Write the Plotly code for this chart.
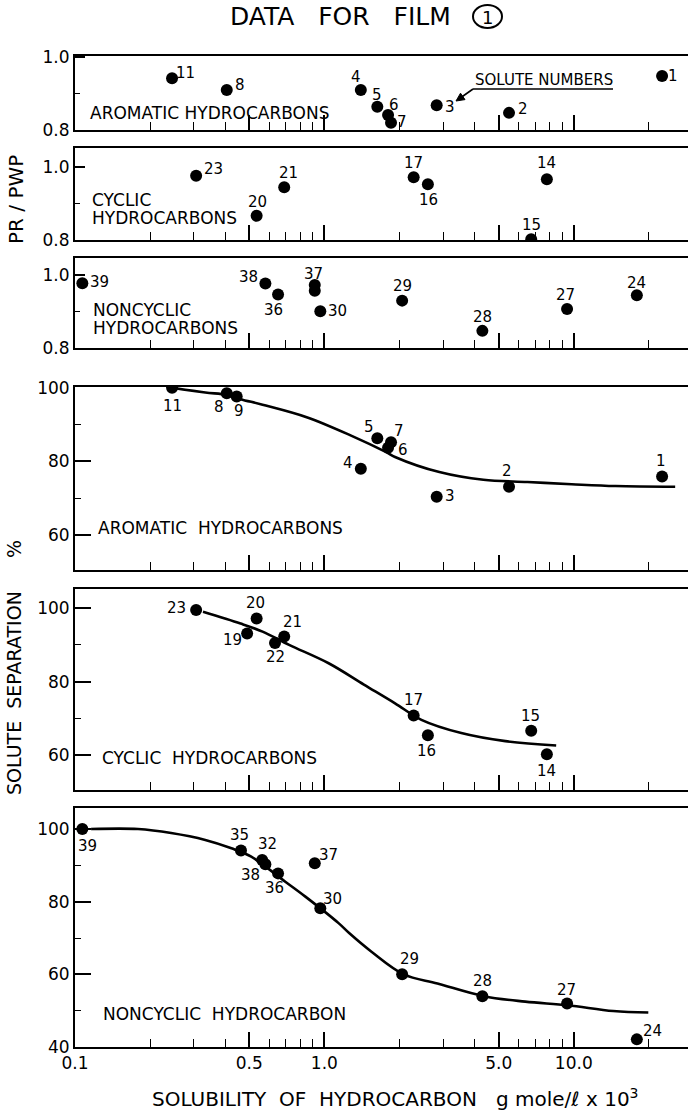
import numpy as np
import plotly.graph_objects as go

W, H = 688, 1113

# ---- solute data: solute number, solubility (g mole/l x 10^3), PR/PWP, solute separation % ----
aro_ids = [11, 8, 9, 4, 5, 6, 7, 3, 2, 1]
aro_sol = [0.245, 0.406, 0.445, 1.40, 1.63, 1.80, 1.85, 2.82, 5.5, 22.6]
aro_pr = [0.942, 0.910, None, 0.910, 0.864, 0.841, 0.820, 0.868, 0.847, 0.948]
aro_ss = [100, 98.5, 97.6, 78.0, 86.3, 83.7, 85.2, 70.4, 73.1, 75.9]

cyc_ids = [23, 20, 19, 22, 21, 17, 16, 15, 14]
cyc_sol = [0.306, 0.535, 0.49, 0.634, 0.69, 2.28, 2.6, 6.75, 7.8]
cyc_pr = [0.975, 0.866, None, None, 0.944, 0.971, 0.952, 0.802, 0.966]
cyc_ss = [99.5, 97.2, 93.1, 90.5, 92.3, 70.8, 65.4, 66.6, 60.2]

non_ids = [39, 35, 32, 38, 36, 37, 30, 29, 28, 27, 24]
non_sol = [0.107, 0.463, 0.563, 0.58, 0.652, 0.915, 0.963, 2.05, 4.3, 9.4, 17.9]
non_pr = [0.978, None, None, 0.977, 0.947, 0.973, 0.901, 0.930, 0.847, 0.907, 0.945]
non_ss = [100, 94.1, 91.5, 90.3, 87.8, 90.6, 78.2, 60.0, 54.0, 52.0, 42.1]

# repeat PR/PWP measurement for solute 37
non_rep_sol = [0.915]
non_rep_pr = [0.957]

# ---- smoothed trend curves for solute separation ----
aro_fit_x = [0.245, 0.333, 0.405, 0.461, 0.565, 0.849, 1.28, 1.77, 1.92, 2.89, 4.34, 6.52, 9.8, 14.7, 25.5]
aro_fit_y = [100, 98.7, 98.1, 96.9, 95.4, 92.0, 87.0, 82.5, 81.2, 77.1, 75.0, 74.4, 73.8, 73.3, 73.1]

cyc_fit_x = [0.326, 0.461, 0.565, 0.722, 1.04, 1.44, 1.92, 2.45, 3.54, 5.32, 8.50]
cyc_fit_y = [99.0, 95.8, 93.6, 90.0, 85.0, 79.2, 74.1, 69.6, 66.0, 63.8, 62.6]

non_fit_x = [0.116, 0.179, 0.243, 0.333, 0.424, 0.509, 0.697, 0.839, 1.14, 1.26, 1.54, 2.08, 2.84, 4.36, 6.39, 9.47, 14.4, 19.9]
non_fit_y = [100, 100, 98.9, 97.0, 94.7, 92.4, 85.5, 81.4, 74.1, 71.3, 66.3, 60.0, 57.5, 54.0, 52.5, 51.5, 49.9, 49.5]

# axis ticks
x_major = [0.1, 0.5, 1, 5, 10]
x_major_text = ["0.1", "0.5", "1.0", "5.0", "10.0"]
x_minor = [0.2, 0.3, 0.4, 0.6, 0.7, 0.8, 0.9, 2, 3, 4, 6, 7, 8, 9, 20]

FONT = "DejaVu Sans"
INK = "black"

# number label offsets (px right, px down) from each dot
off_aro_pr = {11: (13, -5), 8: (13, -5), 4: (-5, -13), 5: (0, -12), 6: (6, -10), 7: (11, -1),
              3: (13, 2), 2: (14, -4), 1: (11, 0)}
off_cyc_pr = {23: (17, -7), 21: (4, -14), 20: (1, -14), 17: (0, -14), 16: (1, 16), 14: (0, -16), 15: (0, -14)}
off_non_pr = {39: (17, -1), 38: (-17, -7), 36: (-5, 16), 37: (-1, -11), 30: (17, 0), 29: (0, -15),
              28: (0, -14), 27: (-2, -14), 24: (0, -12)}
off_aro_ss = {11: (0, 18), 8: (-8, 14), 9: (2, 14), 5: (-8, -11), 7: (8, -11), 6: (15, 2), 4: (-13, -6),
              3: (13, -1), 2: (-2, -16), 1: (-1, -15)}
off_cyc_ss = {23: (-20, -2), 20: (-1, -15), 19: (-15, 7), 22: (0, 14), 21: (8, -14), 17: (0, -15),
              16: (-1, 16), 15: (-1, -15), 14: (0, 17)}
off_non_ss = {39: (5, 17), 35: (-1, -16), 32: (5, -16), 38: (-15, 11), 36: (-4, 15), 37: (14, -8),
              30: (12, -9), 29: (7, -15), 28: (0, -15), 27: (-1, -13), 24: (16, -8)}


def py(p):
    return 1 - p / H


def px(p):
    return p / W


# panel frames: (top px, bottom px, y range)
panels = [
    dict(top=56, bot=130, yr=[0.8, 1.003], kind="pr"),
    dict(top=148, bot=240, yr=[0.8, 1.051], kind="pr"),
    dict(top=258, bot=348, yr=[0.8, 1.047], kind="pr"),
    dict(top=387, bot=570, yr=[50.5, 100.2], kind="ss"),
    dict(top=589, bot=790, yr=[50.5, 105.2], kind="ss"),
    dict(top=808, bot=1047, yr=[40, 105.8], kind="ss"),
]

series = [
    (aro_ids, aro_sol, aro_pr, off_aro_pr, None),
    (cyc_ids, cyc_sol, cyc_pr, off_cyc_pr, None),
    (non_ids, non_sol, non_pr, off_non_pr, None),
    (aro_ids, aro_sol, aro_ss, off_aro_ss, (aro_fit_x, aro_fit_y)),
    (cyc_ids, cyc_sol, cyc_ss, off_cyc_ss, (cyc_fit_x, cyc_fit_y)),
    (non_ids, non_sol, non_ss, off_non_ss, (non_fit_x, non_fit_y)),
]

fig = go.Figure()
annotations = []
layout_axes = {}

for i, (pan, (ids, sol, vals, offs, fit)) in enumerate(zip(panels, series), start=1):
    xa = f"x{i}" if i > 1 else "x"
    ya = f"y{i}" if i > 1 else "y"
    xkey = f"xaxis{i}" if i > 1 else "xaxis"
    ykey = f"yaxis{i}" if i > 1 else "yaxis"

    if fit is not None:
        fig.add_trace(go.Scatter(x=fit[0], y=fit[1], mode="lines", xaxis=xa, yaxis=ya,
                                 line=dict(color=INK, width=2.6, shape="spline", smoothing=1.0),
                                 hoverinfo="skip", showlegend=False))

    pts = [(n, s, v) for n, s, v in zip(ids, sol, vals) if v is not None]
    fig.add_trace(go.Scatter(x=[p[1] for p in pts], y=[p[2] for p in pts], mode="markers",
                             xaxis=xa, yaxis=ya, marker=dict(color=INK, size=12),
                             text=[str(p[0]) for p in pts], showlegend=False))
    if i == 3:
        fig.add_trace(go.Scatter(x=non_rep_sol, y=non_rep_pr, mode="markers", xaxis=xa, yaxis=ya,
                                 marker=dict(color=INK, size=12), showlegend=False))

    for n, s, v in pts:
        dx, dy = offs.get(n, (12, 0))
        annotations.append(dict(x=np.log10(s), y=v, xref=xa, yref=ya, text=str(n), showarrow=False,
                                xshift=dx, yshift=-dy, font=dict(family=FONT, size=15, color=INK)))

    last = i == 6
    layout_axes[xkey] = dict(
        type="log", range=[-1, 1.458], domain=[px(75), 1.0], anchor=ya,
        showline=True, linecolor=INK, linewidth=2, mirror=True,
        showgrid=False, zeroline=False,
        tickmode="array", tickvals=x_major, ticktext=x_major_text,
        ticks="inside", ticklen=15, tickwidth=1.6, tickcolor=INK,
        minor=dict(tickmode="array", tickvals=x_minor, ticks="inside", ticklen=8,
                   tickwidth=1.4, tickcolor=INK, showgrid=False),
        showticklabels=last, tickfont=dict(family=FONT, size=17, color=INK),
    )
    if pan["kind"] == "pr":
        yt = dict(tickvals=[0.8, 1.0], ticktext=["0.8", "1.0"], ticklen=10,
                  minor=dict(tickmode="array", tickvals=[0.9], ticks="inside", ticklen=5,
                             tickwidth=1.4, tickcolor=INK, showgrid=False))
    else:
        major = [40, 60, 80, 100] if last else [60, 80, 100]
        yt = dict(tickvals=major, ticktext=[str(v) for v in major], ticklen=16,
                  minor=dict(tickmode="array", tickvals=[50, 70, 90], ticks="inside", ticklen=6,
                             tickwidth=1.4, tickcolor=INK, showgrid=False))
    layout_axes[ykey] = dict(
        range=pan["yr"], domain=[py(pan["bot"]), py(pan["top"])], anchor=xa,
        showline=True, linecolor=INK, linewidth=2, mirror=False,
        showgrid=False, zeroline=False, tickmode="array",
        ticks="inside", tickwidth=1.6, tickcolor=INK,
        tickfont=dict(family=FONT, size=17, color=INK), **yt,
    )

NB = "\u00a0"


def note(text, x, y, size=17, xanchor="left", angle=0):
    annotations.append(dict(x=px(x), y=py(y), xref="paper", yref="paper", text=text, showarrow=False,
                            xanchor=xanchor, yanchor="middle", textangle=angle,
                            font=dict(family=FONT, size=size, color=INK)))


# title
note(f"DATA{NB*3}FOR{NB*3}FILM", 340, 16, size=25, xanchor="center")
note("1", 487.5, 17, size=18, xanchor="center")

# class names inside panels
note("AROMATIC HYDROCARBONS", 88, 113)
note("SOLUTE NUMBERS", 544, 80, size=15, xanchor="center")
note("CYCLIC", 90, 200)
note("HYDROCARBONS", 90, 218)
note("NONCYCLIC", 91, 310)
note("HYDROCARBONS", 91, 328)
note(f"AROMATIC{NB*2}HYDROCARBONS", 96, 528)
note(f"CYCLIC{NB*2}HYDROCARBONS", 100, 758)
note(f"NONCYCLIC{NB*2}HYDROCARBON", 101, 1014)

# axis titles
note(f"PR{NB}/{NB}PWP", 16, 200, size=20, xanchor="center", angle=-90)
note(f"SOLUTE{NB*2}SEPARATION", 14, 693, size=19, xanchor="center", angle=-90)
note("%", 14, 549, size=19, xanchor="center", angle=-90)
note(f"SOLUBILITY{NB*2}OF{NB*2}HYDROCARBON{NB*3}g mole/ℓ x 10<sup>3</sup>", 395, 1098,
     size=20, xanchor="center")

# pointer from the caption toward a solute number: underline, shaft and head
shapes = [
    dict(type="line", xref="paper", yref="paper", x0=px(473), x1=px(613), y0=py(89), y1=py(89),
         line=dict(color=INK, width=1.6)),
    dict(type="line", xref="paper", yref="paper", x0=px(473), x1=px(461), y0=py(89), y1=py(97.5),
         line=dict(color=INK, width=1.6)),
    dict(type="path", xref="paper", yref="paper",
         path=(f"M {px(456)},{py(101)} L {px(465)},{py(99.6)} L {px(460.5)},{py(93.2)} Z"),
         fillcolor=INK, line=dict(color=INK, width=1)),
    dict(type="circle", xref="paper", yref="paper", x0=px(473), x1=px(502), y0=py(28), y1=py(5),
         line=dict(color=INK, width=2)),
]

fig.update_layout(
    width=W, height=H, margin=dict(l=0, r=0, t=0, b=0, autoexpand=False),
    paper_bgcolor="white", plot_bgcolor="white",
    showlegend=False, annotations=annotations, shapes=shapes,
    font=dict(family=FONT, color=INK),
    **layout_axes,
)

fig.write_html("out.html")
